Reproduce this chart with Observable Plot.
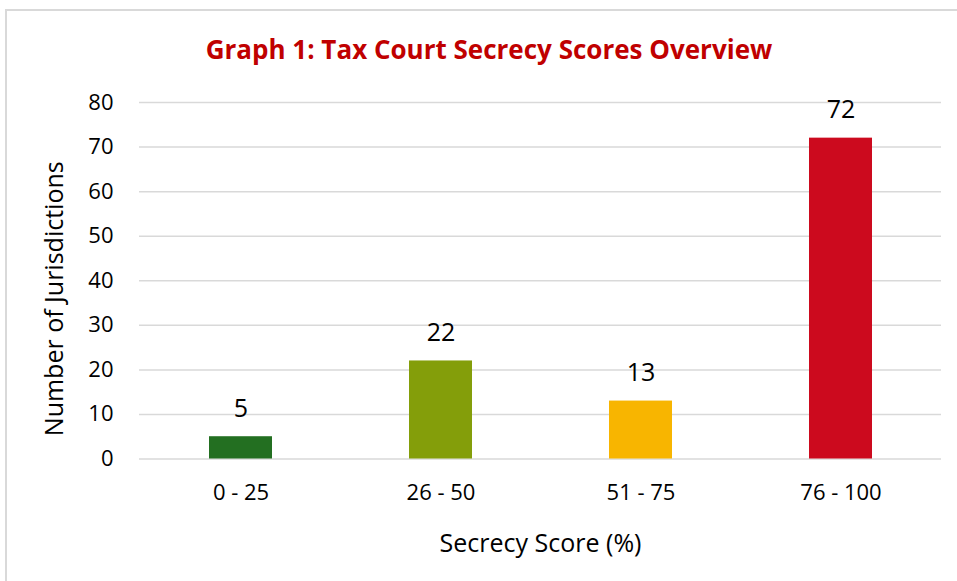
<!DOCTYPE html>
<html>
<head>
<meta charset="utf-8">
<script src="https://cdn.jsdelivr.net/npm/d3@7"></script>
<script src="https://cdn.jsdelivr.net/npm/@observablehq/plot@0.6"></script>
<style>
  html, body { margin: 0; padding: 0; background: #fff; }
  #wrap { position: relative; width: 957px; height: 581px; overflow: hidden; }
  #frame { position: absolute; left: 5px; top: 9px; width: 960px; height: 580px; border: 2px solid #d9d9d9; box-sizing: border-box; }
  #title { position: absolute; left: 0; width: 978px; top: 36px; line-height: 1; text-align: center;
    font-family: "Open Sans", sans-serif; font-weight: bold; font-size: 26px; color: #C00000; }
  #chart { position: absolute; left: 0; top: 0; }
</style>
</head>
<body>
<div id="wrap">
  <div id="frame"></div>
  <div id="title">Graph 1: Tax Court Secrecy Scores Overview</div>
  <div id="chart"></div>
</div>
<script>
const categories = ["0 - 25", "26 - 50", "51 - 75", "76 - 100"];
const values = [5, 22, 13, 72];
const colors = ["#236F21", "#849E0A", "#F8B500", "#CC0A1E"];
const yTicks = [0, 10, 20, 30, 40, 50, 60, 70, 80];

const data = categories.map((c, i) => ({category: c, value: values[i], color: colors[i]}));

const chart = Plot.plot({
  width: 957,
  height: 581,
  marginLeft: 139,
  marginRight: 16,
  marginTop: 102,
  marginBottom: 122.5,
  style: {fontFamily: "'Open Sans', sans-serif", fontSize: "22px", color: "#000", background: "transparent"},
  x: {domain: categories, paddingInner: 0.686, paddingOuter: 0.343, label: null},
  y: {domain: [0, 80], ticks: yTicks, label: null},
  marks: [
    Plot.gridY(yTicks, {stroke: "#d9d9d9", strokeOpacity: 1, strokeWidth: 1.5}),
    Plot.barY(data, {x: "category", y: "value", fill: "color"}),
    Plot.axisY(yTicks, {tickSize: 0, tickPadding: 26, fontSize: 22, label: null}),
    Plot.axisX({tickSize: 0, tickPadding: 25, fontSize: 22, label: null}),
    Plot.text(data, {x: "category", y: "value", text: d => String(d.value), dy: -28, fontSize: 25, fill: "#000"}),
    Plot.text(["Number of Jurisdictions"], {frameAnchor: "left", textAnchor: "middle", lineAnchor: "middle", dx: -85, dy: 18, rotate: -90, fontSize: 25, fill: "#000"}),
    Plot.text(["Secrecy Score (%)"], {frameAnchor: "bottom", textAnchor: "middle", lineAnchor: "middle", dy: 85, fontSize: 25, fill: "#000"})
  ]
});
document.getElementById("chart").appendChild(chart);
</script>
</body>
</html>
